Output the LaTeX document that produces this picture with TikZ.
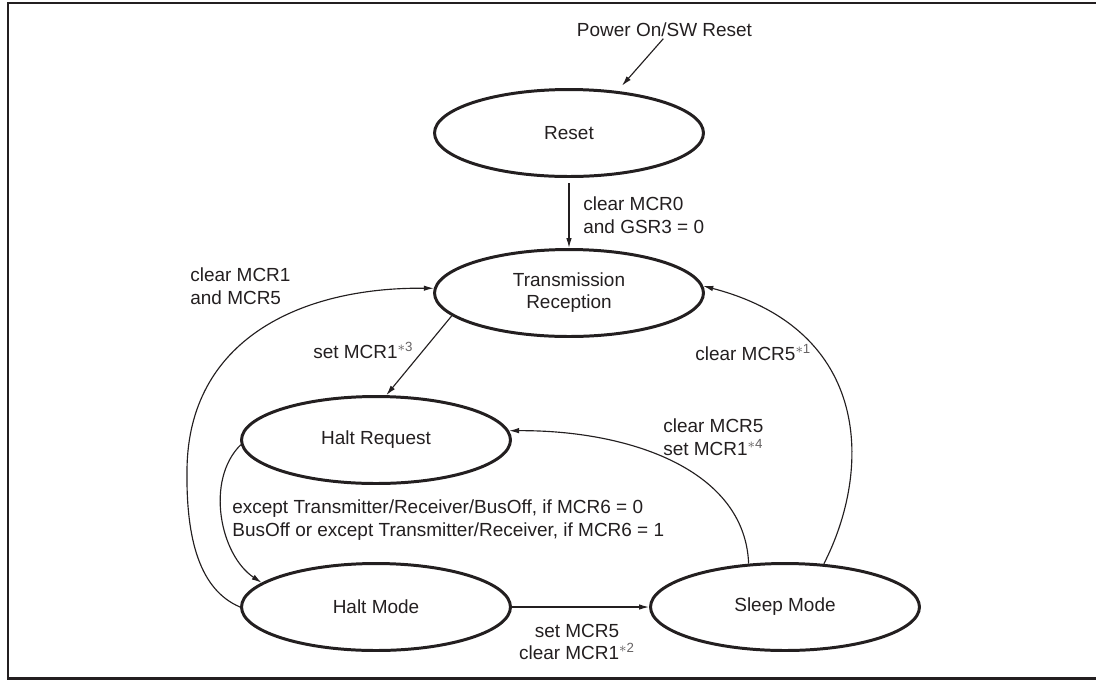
\documentclass[tikz,border=0pt]{standalone}
\usepackage{fontspec}
\setmainfont{Liberation Sans}
\usetikzlibrary{arrows.meta,shapes.geometric}
\definecolor{ink}{RGB}{35,31,32}
\tikzset{
  >={Latex[length=2mm,width=1.1mm]},
  state/.style={ellipse,draw=ink,line width=1.7pt,minimum width=5.38cm,minimum height=1.74cm,
    inner sep=0pt,align=center,text=ink,font=\fontsize{10.8}{12.5}\selectfont},
  flow/.style={->,draw=ink,line width=0.65pt},
  tag/.style={font=\fontsize{10.8}{13}\selectfont,text=ink,align=left,inner sep=0pt},
}
\newcommand{\starnote}[1]{\textsuperscript{\color{ink!70}$\ast$#1}}

\begin{document}
\begin{tikzpicture}[x=0.02cm,y=-0.02cm]
  \useasboundingbox (0,0) rectangle (1096,681);
  \draw[ink,line width=1.4pt] (1096,3) -- (8,3) -- (8,678.7) -- (1096,678.7);
  % states
  \foreach \n/\t/\x/\y in {reset/Reset/569/133, trx/Transmission\\Reception/569/293,
    hreq/Halt Request/376/440, hmode/Halt Mode/376/607, sleep/Sleep Mode/785/607}
    \node[state] (\n) at (\x,\y) {\t};
  % labels
  \node[tag] (pwr) at (664.5,30) {Power On/SW Reset};
  \node[tag,anchor=west] (lclr0) at (583,215) {clear MCR0\\and GSR3 = 0};
  \node[tag,anchor=west] (lclr15) at (190,286) {clear MCR1\\and MCR5};
  \node[tag,anchor=west] (lset1) at (313,350) {set MCR1\starnote{3}};
  \node[tag,anchor=west] (lclr5a) at (695,353) {clear MCR5\starnote{1}};
  \node[tag,anchor=west] (lclr5b) at (663,437) {clear MCR5\\set MCR1\starnote{4}};
  \node[tag,anchor=west] (lexc) at (232,520) {except Transmitter/Receiver/BusOff, if MCR6 = 0\\BusOff or except Transmitter/Receiver, if MCR6 = 1};
  \node[tag,align=center] (lset5) at (577,642) {set MCR5\\clear MCR1\starnote{2}};
  % transitions
  \draw[flow,shorten <=1pt,shorten >=4pt] (pwr.south) -- (reset.41);
  \draw[flow,shorten <=3pt] (reset) -- (trx);
  \draw[flow] (trx.191) -- (hreq.77);
  \draw[flow] (hmode.west) .. controls (200,590) and (186,540) .. (187,470)
    .. controls (188,340) and (300,287) .. (trx.178);
  \draw[flow] (hreq.182) .. controls (205,480) and (220,555) .. (hmode.168);
  \draw[flow] (hmode.east) -- (sleep.west);
  \draw[flow] (sleep.130) .. controls (745,470) and (630,430) .. (hreq.4);
  \draw[flow] (sleep.48) .. controls (872,470) and (872,330) .. (trx.3);
\end{tikzpicture}
\end{document}
